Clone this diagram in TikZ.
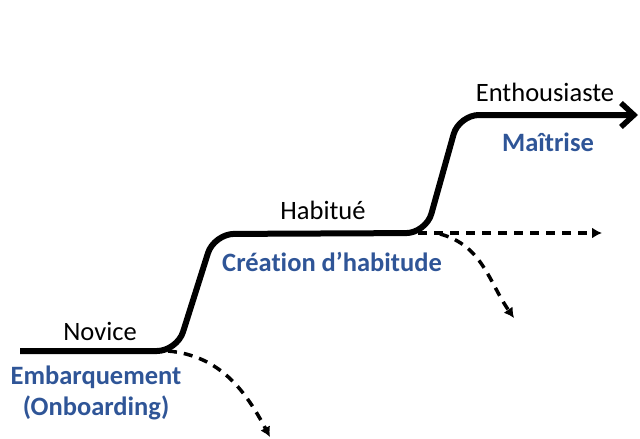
\documentclass[tikz,border=0pt]{standalone}
\usepackage{fontspec}
\setmainfont{Carlito}[Ligatures=NoCommon]
\usetikzlibrary{arrows.meta}
\definecolor{stageblue}{HTML}{2F5597}
\begin{document}
\begin{tikzpicture}[x=1pt,y=-1pt,
		stage/.style={font=\fontsize{26.5}{31}\selectfont},
		phase/.style={font=\fontsize{26.5}{31}\selectfont\bfseries,text=stageblue,align=center},
		exit/.style={line width=3.5pt,dash pattern=on 9pt off 7pt,-{Latex[length=10pt,width=11pt]}}]
		\useasboundingbox (0,0) rectangle (640,439);
		%%%
		\coordinate (start) at (20,351);
		\coordinate (c1) at (177,351);
		\coordinate (c2) at (214,234);
		\coordinate (c3) at (426,233);
		\coordinate (c4) at (459,115);
		\coordinate (end) at (638,115);
		%%%
		\coordinate (d1) at (168,351);
		\coordinate (d1e) at (270,437);
		\coordinate (d2) at (418,233);
		\coordinate (d2e) at (602,233);
		\coordinate (d3) at (440,234);
		\coordinate (d3e) at (514,318);
		\draw[exit] (d1) to[out=-5,in=118] (d1e);
		\draw[exit] (d2) -- (d2e);
		\draw[exit] (d3) to[out=-15,in=125] (d3e);
		%%%
		\draw[line width=6pt,rounded corners=20pt,-{Straight Barb[length=13pt,width=24pt,line width=5.5pt]}] (start) -- (c1) -- (c2) -- (c3) -- (c4) -- (end);
		%%%
		\node[stage] (novice) at (100,331) {Novice};
		\node[phase] (onboard) at (96,393) {Embarquement\\(Onboarding)};
		\node[stage] (habitue) at (323,210) {Habitué};
		\node[phase] (habit) at (332,262) {Création d’habitude};
		\node[stage] (enthus) at (545,92) {Enthousiaste};
		\node[phase] (master) at (548,142) {Maîtrise};
	\end{tikzpicture}
\end{document}
